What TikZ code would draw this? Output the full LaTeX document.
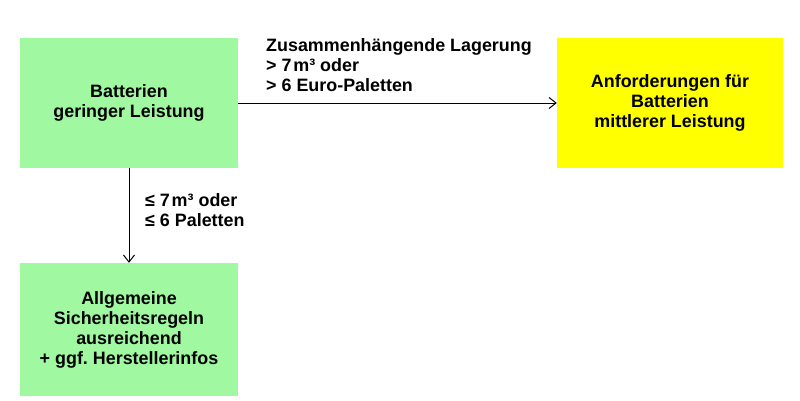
\documentclass[tikz,border=0pt]{standalone}
\usepackage{fontspec}
\setmainfont{Liberation Sans}
\frenchspacing
\usetikzlibrary{arrows.meta}
\definecolor{boxgreen}{RGB}{160,248,160}
\definecolor{boxyellow}{RGB}{255,255,0}
\begin{document}
\begin{tikzpicture}[x=1pt,y=-1pt,
  every node/.style={font=\fontsize{17.9}{20}\selectfont\bfseries},
  greenbox/.style={fill=boxgreen,draw=none,inner sep=0pt,align=center},
  yellowbox/.style={fill=boxyellow,draw=none,inner sep=0pt,align=center},
  lbl/.style={inner sep=0pt,align=left},
  arr/.style={line width=1pt,-{Straight Barb[length=7pt,width=11pt,line width=1pt]}}]
\useasboundingbox[fill=white] (0,0) rectangle (800,400);
\node[greenbox,minimum width=218pt,minimum height=130pt] (b1) at (129,103)
  {Batterien\\geringer Leistung};
\node[yellowbox,minimum width=226pt,minimum height=130pt] (b2) at (670,103)
  {Anforderungen für\\Batterien\\mittlerer Leistung};
\node[greenbox,minimum width=218pt,minimum height=133pt] (b3) at (129,329.5)
  {Allgemeine\\Sicherheitsregeln\\ausreichend\\+ ggf. Herstellerinfos};
\draw[arr] (b1.east) -- (b2.west);
\draw[arr] (b1.south) -- (b3.north);
\node[lbl,anchor=north west] (l1) at (266,38)
  {Zusammenhängende Lagerung\\> 7\hspace{0.1em}m³ oder\\> 6 Euro-Paletten};
\node[lbl,anchor=north west] (l2) at (145,193)
  {≤ 7\hspace{0.1em}m³ oder\\≤ 6 Paletten};
\end{tikzpicture}
\end{document}
